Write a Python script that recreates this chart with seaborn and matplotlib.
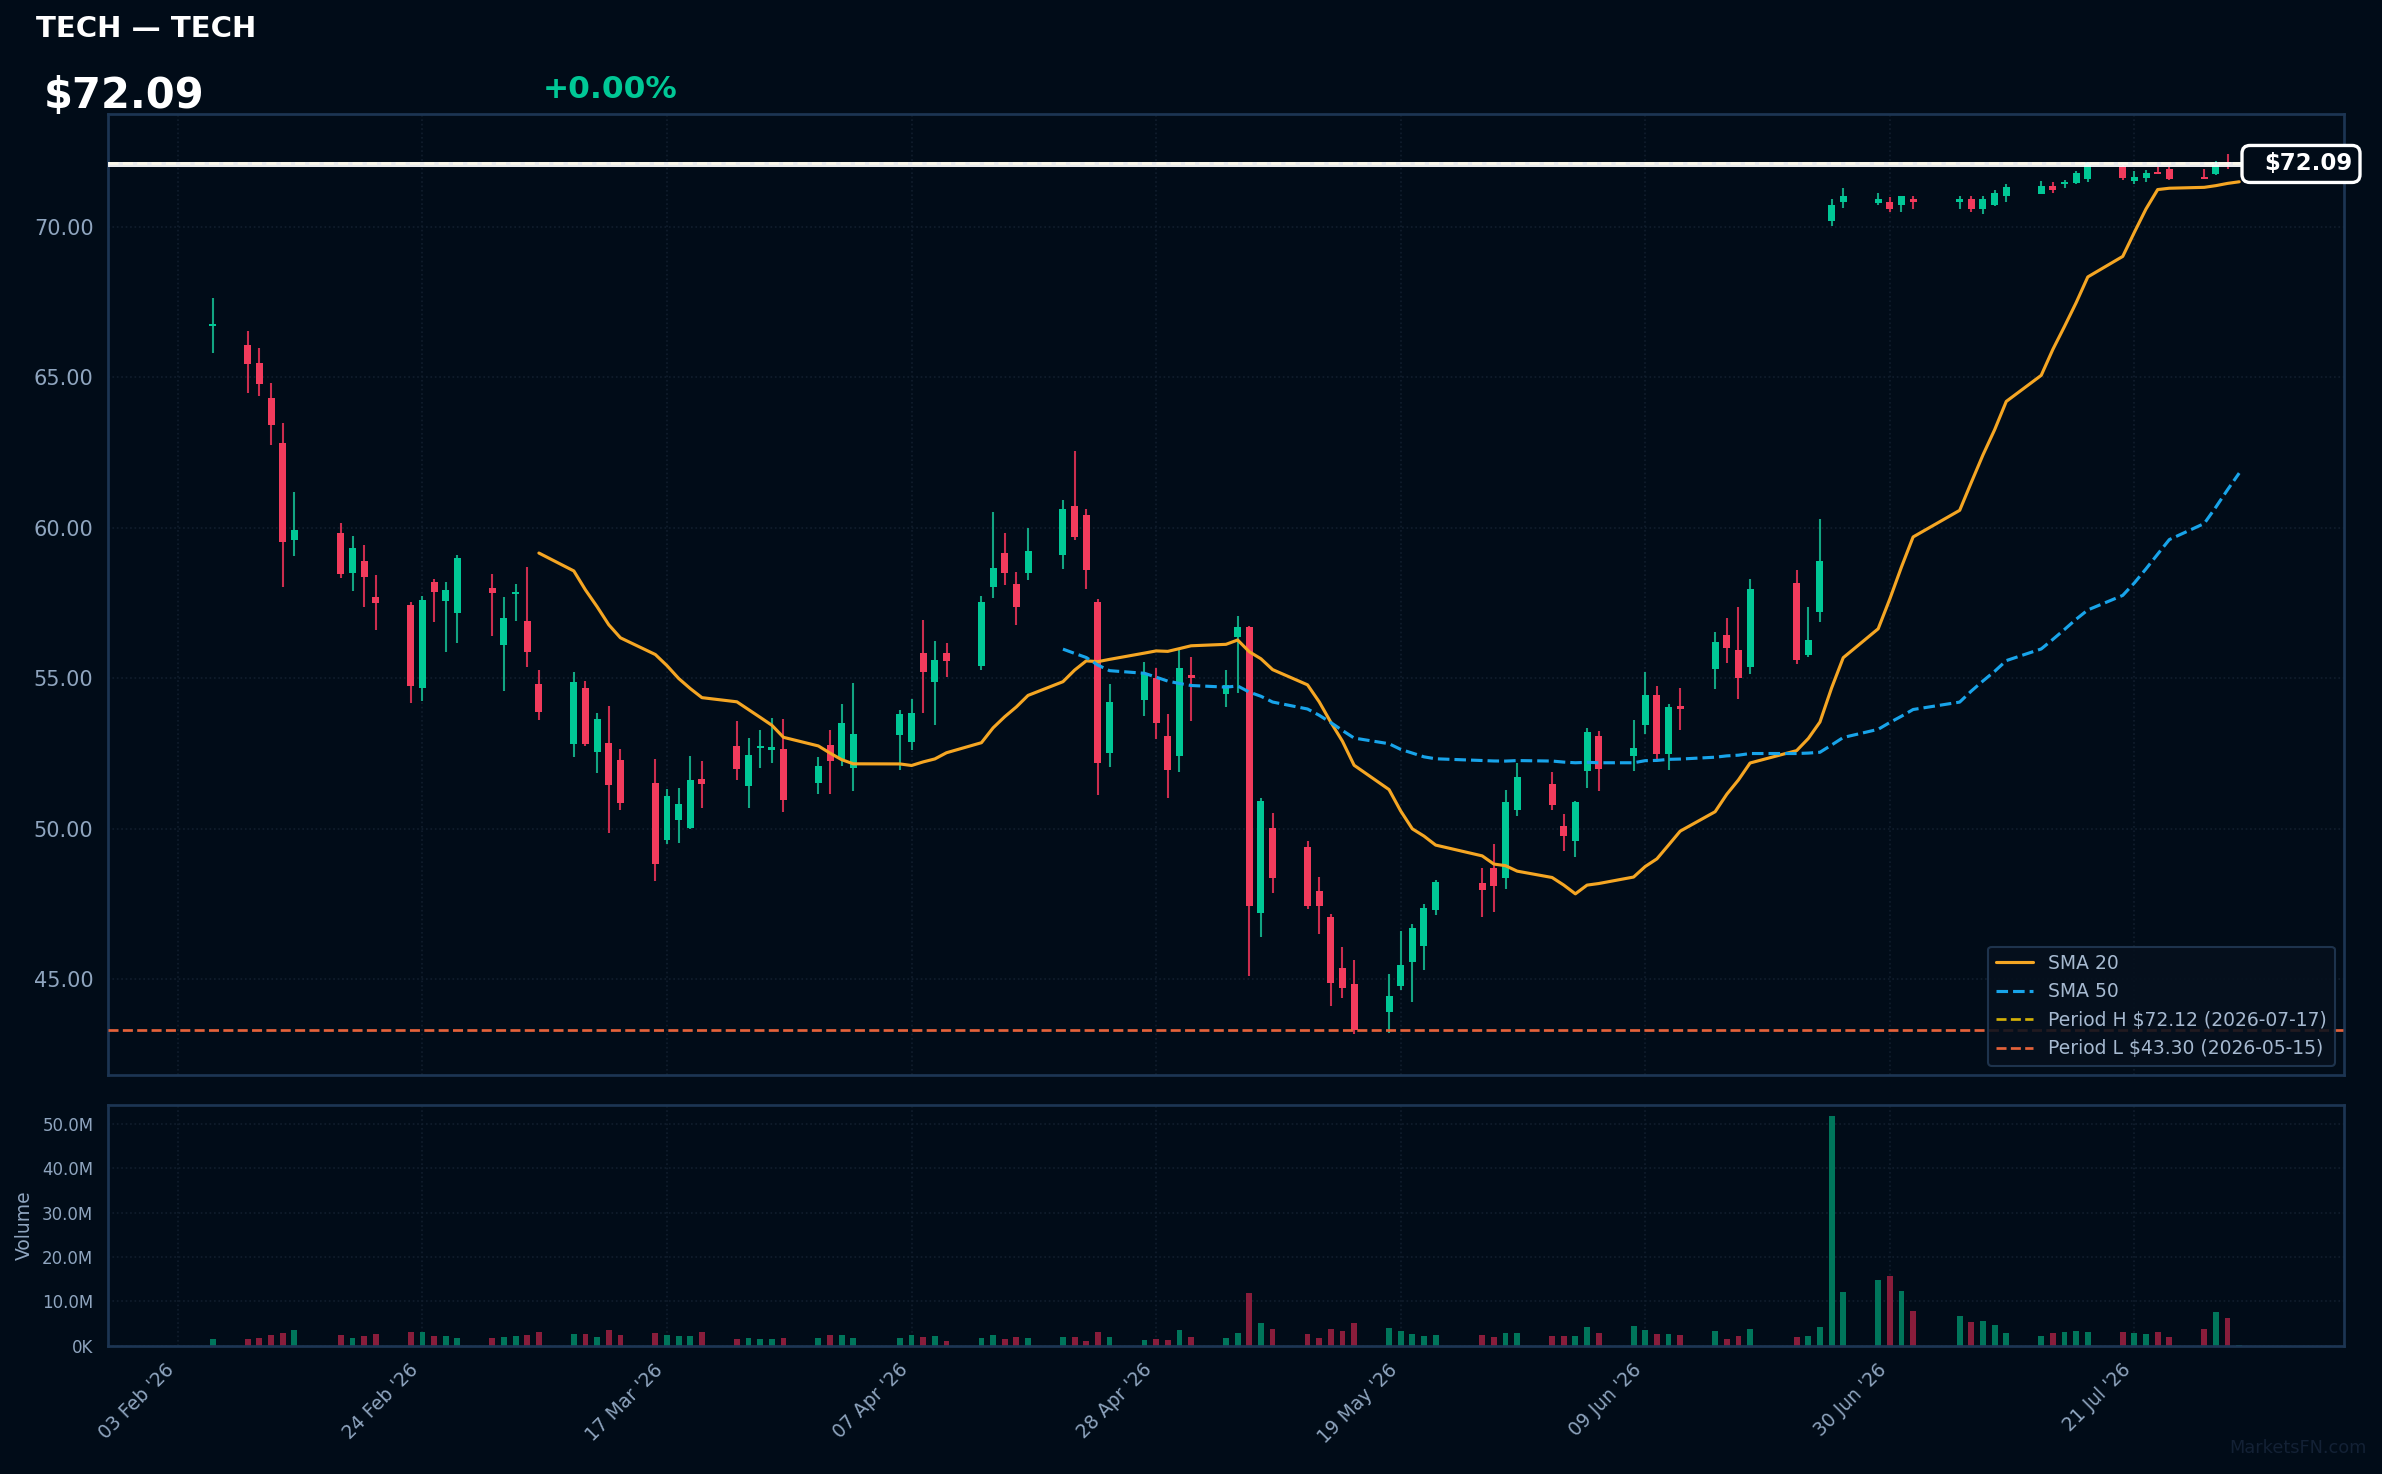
import numpy as np
import pandas as pd
import matplotlib
matplotlib.use("Agg")
import matplotlib.pyplot as plt
import matplotlib.dates as mdates
from matplotlib.patches import FancyBboxPatch
from matplotlib.lines import Line2D
from matplotlib.transforms import IdentityTransform
from matplotlib.ticker import MultipleLocator, FormatStrFormatter, FuncFormatter
import seaborn as sns

# ---------------- data ----------------
ticker = "TECH"
name = "TECH"

dates = [
    "2026-02-06", "2026-02-09", "2026-02-10", "2026-02-11", "2026-02-12", "2026-02-13",
    "2026-02-17", "2026-02-18", "2026-02-19", "2026-02-20",
    "2026-02-23", "2026-02-24", "2026-02-25", "2026-02-26", "2026-02-27",
    "2026-03-02", "2026-03-03", "2026-03-04", "2026-03-05", "2026-03-06",
    "2026-03-09", "2026-03-10", "2026-03-11", "2026-03-12", "2026-03-13",
    "2026-03-16", "2026-03-17", "2026-03-18", "2026-03-19", "2026-03-20",
    "2026-03-23", "2026-03-24", "2026-03-25", "2026-03-26", "2026-03-27",
    "2026-03-30", "2026-03-31", "2026-04-01", "2026-04-02",
    "2026-04-06", "2026-04-07", "2026-04-08", "2026-04-09", "2026-04-10",
    "2026-04-13", "2026-04-14", "2026-04-15", "2026-04-16", "2026-04-17",
    "2026-04-20", "2026-04-21", "2026-04-22", "2026-04-23", "2026-04-24",
    "2026-04-27", "2026-04-28", "2026-04-29", "2026-04-30", "2026-05-01",
    "2026-05-04", "2026-05-05", "2026-05-06", "2026-05-07", "2026-05-08",
    "2026-05-11", "2026-05-12", "2026-05-13", "2026-05-14", "2026-05-15",
    "2026-05-18", "2026-05-19", "2026-05-20", "2026-05-21", "2026-05-22",
    "2026-05-26", "2026-05-27", "2026-05-28", "2026-05-29",
    "2026-06-01", "2026-06-02", "2026-06-03", "2026-06-04", "2026-06-05",
    "2026-06-08", "2026-06-09", "2026-06-10", "2026-06-11", "2026-06-12",
    "2026-06-15", "2026-06-16", "2026-06-17", "2026-06-18",
    "2026-06-22", "2026-06-23", "2026-06-24", "2026-06-25", "2026-06-26",
    "2026-06-29", "2026-06-30", "2026-07-01", "2026-07-02",
    "2026-07-06", "2026-07-07", "2026-07-08", "2026-07-09", "2026-07-10",
    "2026-07-13", "2026-07-14", "2026-07-15", "2026-07-16", "2026-07-17",
    "2026-07-20", "2026-07-21", "2026-07-22", "2026-07-23", "2026-07-24",
    "2026-07-27", "2026-07-28", "2026-07-29", "2026-07-30",
]

opens = [
    66.72, 66.07, 65.48, 64.31, 62.82, 59.61,
    59.83, 58.51, 58.90, 57.70,
    57.44, 54.69, 58.20, 57.58, 57.18,
    58.01, 56.11, 57.79, 56.91, 54.81,
    52.82, 54.68, 52.56, 52.84, 52.28,
    51.51, 49.62, 50.29, 50.02, 51.64,
    52.74, 51.42, 52.69, 52.61, 52.64,
    51.52, 52.78, 52.33, 52.02,
    53.12, 52.89, 55.84, 54.89, 55.84,
    55.42, 58.02, 59.18, 58.14, 58.49,
    59.09, 60.74, 60.41, 57.54, 52.52,
    54.29, 55.01, 53.08, 52.42, 55.11,
    54.49, 56.36, 56.71, 47.19, 50.04,
    49.41, 47.94, 47.08, 45.38, 44.84,
    43.92, 44.79, 45.59, 46.12, 47.29,
    48.21, 48.71, 48.36, 50.62,
    51.48, 50.08, 49.59, 51.92, 53.08,
    52.41, 53.44, 54.44, 52.49, 54.08,
    55.32, 56.44, 55.94, 55.36,
    58.18, 55.76, 57.19, 70.19, 70.81,
    70.78, 70.84, 70.74, 70.91,
    70.84, 70.91, 70.61, 70.71, 71.04,
    71.10, 71.36, 71.43, 71.45, 71.60,
    72.02, 71.54, 71.64, 71.79, 71.93,
    71.67, 71.74, 72.11, 72.09,
]

highs = [
    67.64, 66.54, 65.96, 64.81, 63.48, 61.19,
    60.16, 59.73, 59.43, 58.43,
    57.54, 57.74, 58.30, 58.20, 59.10,
    58.48, 57.70, 58.14, 58.71, 55.28,
    55.21, 54.91, 53.84, 54.08, 52.64,
    52.31, 51.31, 51.34, 52.41, 52.24,
    53.58, 53.01, 53.28, 53.68, 53.64,
    52.38, 53.28, 54.14, 54.84,
    53.94, 54.31, 56.94, 56.24, 56.18,
    57.74, 60.51, 59.84, 58.54, 60.01,
    60.94, 62.54, 60.64, 57.64, 54.81,
    55.54, 55.34, 53.81, 55.94, 55.71,
    55.28, 57.08, 56.74, 51.04, 50.54,
    49.58, 48.41, 47.18, 46.08, 45.64,
    45.18, 46.61, 46.84, 47.51, 48.31,
    48.71, 49.48, 51.28, 52.18,
    51.88, 50.48, 50.94, 53.34, 53.24,
    53.61, 55.21, 54.74, 54.14, 54.68,
    56.54, 57.01, 57.38, 58.31,
    58.61, 57.38, 60.31, 70.94, 71.28,
    71.14, 70.98, 71.04, 71.04,
    71.01, 71.01, 71.01, 71.24, 71.41,
    71.53, 71.48, 71.56, 71.86, 72.16,
    72.06, 71.86, 71.89, 72.00, 72.00,
    71.93, 72.18, 72.42, 72.09,
]

lows = [
    65.82, 64.49, 64.39, 62.76, 58.05, 59.08,
    58.34, 57.91, 57.38, 56.62,
    54.19, 54.23, 56.88, 55.89, 56.19,
    56.39, 54.58, 56.91, 55.36, 53.61,
    52.38, 52.76, 51.84, 49.86, 50.62,
    48.26, 49.49, 49.52, 49.98, 50.69,
    51.62, 50.69, 52.02, 52.18, 50.56,
    51.16, 51.16, 52.10, 51.26,
    51.96, 52.62, 53.86, 53.46, 55.06,
    55.29, 57.66, 58.09, 56.78, 58.26,
    58.62, 59.59, 57.96, 51.12, 52.06,
    53.76, 52.99, 51.02, 51.89, 53.59,
    54.06, 54.52, 45.12, 46.42, 47.86,
    47.32, 46.52, 44.12, 44.39, 43.19,
    43.22, 44.66, 44.26, 45.32, 47.12,
    47.06, 47.22, 47.99, 50.42,
    50.62, 49.26, 49.06, 51.36, 51.26,
    51.92, 53.14, 52.26, 51.96, 53.28,
    54.66, 55.52, 54.32, 55.16,
    55.46, 55.70, 56.86, 70.04, 70.64,
    70.71, 70.51, 70.51, 70.61,
    70.58, 70.51, 70.44, 70.68, 70.81,
    71.08, 71.12, 71.29, 71.43, 71.50,
    71.57, 71.43, 71.50, 71.76, 71.57,
    71.60, 71.72, 71.93, 72.09,
]

closes = [
    66.78, 65.45, 64.79, 63.43, 59.54, 59.93,
    58.48, 59.33, 58.35, 57.51,
    54.76, 57.60, 57.88, 57.93, 59.00,
    57.82, 57.01, 57.88, 55.89, 53.89,
    54.88, 52.82, 53.64, 51.46, 50.86,
    48.82, 51.08, 50.84, 51.61, 51.49,
    51.99, 52.44, 52.71, 52.71, 50.96,
    52.08, 52.26, 53.51, 53.14,
    53.81, 53.84, 55.22, 55.61, 55.56,
    57.54, 58.68, 58.49, 57.36, 59.24,
    60.61, 59.69, 58.59, 52.19, 54.21,
    55.14, 53.52, 51.96, 55.34, 55.02,
    54.78, 56.71, 47.42, 50.94, 48.36,
    47.42, 47.42, 44.89, 44.72, 43.30,
    44.44, 45.48, 46.71, 47.38, 48.24,
    47.96, 48.09, 50.88, 51.71,
    50.79, 49.76, 50.88, 53.21, 51.99,
    52.68, 54.44, 52.49, 54.04, 53.98,
    56.21, 56.02, 55.00, 57.98,
    55.62, 56.28, 58.91, 70.71, 71.01,
    70.91, 70.61, 71.01, 70.84,
    70.91, 70.58, 70.94, 71.14, 71.31,
    71.36, 71.22, 71.48, 71.79, 72.12,
    71.62, 71.67, 71.79, 71.76, 71.60,
    71.60, 72.05, 72.09, 72.09,
]

volumes_m = [
    1.5, 1.5, 1.7, 2.4, 2.9, 3.5,
    2.4, 1.7, 2.2, 2.6,
    3.1, 3.1, 2.2, 2.2, 1.7,
    1.7, 2.0, 2.2, 2.4, 3.1,
    2.6, 2.6, 2.0, 3.5, 2.4,
    2.9, 2.4, 2.2, 2.2, 3.1,
    1.5, 1.7, 1.5, 1.5, 1.7,
    1.7, 2.4, 2.4, 1.7,
    1.7, 2.4, 2.0, 2.2, 1.0,
    1.7, 2.4, 1.5, 2.0, 1.7,
    2.0, 2.0, 1.0, 3.1, 2.0,
    1.3, 1.5, 1.3, 3.5, 2.0,
    1.7, 2.9, 11.9, 5.1, 3.8,
    2.6, 1.7, 3.8, 3.3, 5.1,
    4.0, 3.3, 2.6, 2.2, 2.4,
    2.4, 2.0, 2.9, 2.9,
    2.2, 2.2, 2.2, 4.2, 2.9,
    4.4, 3.5, 2.6, 2.6, 2.4,
    3.3, 1.5, 2.2, 3.8,
    2.0, 2.2, 4.2, 51.7, 12.1,
    14.8, 15.7, 12.3, 7.8,
    6.7, 5.3, 5.6, 4.7, 2.9,
    2.2, 2.9, 3.1, 3.3, 3.1,
    3.1, 2.9, 2.6, 3.1, 2.0,
    3.8, 7.6, 6.2, 0.15,
]

tick_start = "2026-02-03"
tick_count = 9
tick_step_days = 21

# ---------------- style ----------------
BG = "#010c18"
UP, DOWN = "#00c896", "#f23b5c"
UP_WICK, DOWN_WICK = "#12a582", "#cc2d4e"
UP_VOL, DOWN_VOL = "#00765b", "#891d3b"
SPINE = "#1c3553"
GRID = "#111e2d"
TICK = "#8fa5bf"
SMA20_C, SMA50_C = "#f5a623", "#18a4ea"
HI_C, LO_C = "#d4b106", "#e5623a"

sns.set_theme(style="dark")
plt.rcParams.update({
    "figure.facecolor": BG,
    "axes.facecolor": BG,
    "savefig.facecolor": BG,
    "axes.edgecolor": SPINE,
    "text.color": "white",
    "xtick.color": TICK,
    "ytick.color": TICK,
    "axes.labelcolor": TICK,
})
plt.rcParams["font.family"] = ["DejaVu Sans"]

df = pd.DataFrame({
    "date": pd.to_datetime(dates), "open": opens, "high": highs,
    "low": lows, "close": closes, "volume": np.array(volumes_m) * 1e6,
})
df["x"] = mdates.date2num(df["date"])
df["up"] = df["close"] >= df["open"]
df["sma20"] = df["close"].rolling(20).mean()
df["sma50"] = df["close"].rolling(50).mean()

W, H, DPI = 2382, 1474, 150
fig = plt.figure(figsize=(W / DPI, H / DPI), dpi=DPI)
ax = fig.add_axes([0.04534, 0.27069, 0.93871, 0.65197])
axv = fig.add_axes([0.04534, 0.08704, 0.93871, 0.16350], sharex=ax)

# candles
body_bottom = np.minimum(df["open"], df["close"])
body_h = np.maximum((df["close"] - df["open"]).abs(), 0.06)
ax.vlines(df["x"], df["low"], df["high"],
          colors=np.where(df["up"], UP_WICK, DOWN_WICK), lw=1.0, zorder=2)
ax.bar(df["x"], body_h, bottom=body_bottom, width=0.6,
       color=np.where(df["up"], UP, DOWN), linewidth=0, zorder=3)

# moving averages
sns.lineplot(x=df["x"].values, y=df["sma20"].values, ax=ax, color=SMA20_C,
             lw=1.5, zorder=4)
sns.lineplot(x=df["x"].values, y=df["sma50"].values, ax=ax, color=SMA50_C,
             lw=1.5, linestyle="--", zorder=4)

# period high / low (closing basis)
i_hi = int(df["close"].idxmax())
i_lo = int(df["close"].idxmin())
p_hi, p_lo = df["close"][i_hi], df["close"][i_lo]
ax.axhline(p_hi, color=HI_C, ls="--", lw=1.3, zorder=4)
ax.axhline(p_lo, color=LO_C, ls="--", lw=1.3, zorder=4)

last = df["close"].iloc[-1]
prev = df["close"].iloc[-2]
chg = (last - prev) / prev * 100
ax.axhline(last, color="white", lw=2.4, alpha=0.92, zorder=6)

# limits / ticks
x0 = df["x"].iloc[0] - 9
x1 = df["x"].iloc[-1] + 9
ax.set_xlim(x0, x1)
ax.set_ylim(41.82, 73.75)
ax.yaxis.set_major_locator(MultipleLocator(5))
ax.yaxis.set_major_formatter(FormatStrFormatter("%.2f"))
ax.tick_params(axis="y", labelsize=10, colors=TICK, length=3.5)
ax.tick_params(axis="x", labelbottom=False, bottom=False)
ax.set_xlabel("")
ax.set_ylabel("")

tick_dates = pd.date_range(tick_start, periods=tick_count, freq=f"{tick_step_days}D")
axv.set_xticks(mdates.date2num(tick_dates))
axv.set_xticklabels([d.strftime("%d %b '%y") for d in tick_dates],
                    rotation=45, ha="right", fontsize=9, color=TICK)
axv.tick_params(axis="x", length=3.5, colors=TICK)

for a in (ax, axv):
    a.grid(True, color=GRID, ls=":", lw=0.8)
    for s in a.spines.values():
        s.set_visible(True)
        s.set_color(SPINE)
        s.set_linewidth(1.3)
    a.set_axisbelow(True)

# volume
axv.bar(df["x"], df["volume"], width=0.5,
        color=np.where(df["up"], UP_VOL, DOWN_VOL), linewidth=0)
axv.set_ylim(0, df["volume"].max() * 1.05)
axv.yaxis.set_major_locator(MultipleLocator(10e6))
axv.yaxis.set_major_formatter(FuncFormatter(
    lambda v, p: f"{v / 1e6:.1f}M" if v >= 1e6 else f"{v / 1e3:.0f}K"))
axv.tick_params(axis="y", labelsize=8, colors=TICK, length=3.5)
axv.set_ylabel("Volume", fontsize=9, color=TICK, labelpad=4)

# legend
handles = [
    Line2D([], [], color=SMA20_C, lw=1.5),
    Line2D([], [], color=SMA50_C, lw=1.5, ls="--"),
    Line2D([], [], color=HI_C, lw=1.3, ls="--"),
    Line2D([], [], color=LO_C, lw=1.3, ls="--"),
]
labels = [
    "SMA 20", "SMA 50",
    f"Period H ${p_hi:.2f} ({df['date'][i_hi]:%Y-%m-%d})",
    f"Period L ${p_lo:.2f} ({df['date'][i_lo]:%Y-%m-%d})",
]
leg = ax.legend(handles, labels, loc="lower right", fontsize=9, frameon=True,
                facecolor="#06101d", edgecolor="#223954", framealpha=0.88,
                labelcolor="#a6b9d0")
leg.set_zorder(10)

# header texts
fig.text(0.0151, 0.9747, f"{ticker} \u2014 {name}", fontsize=14,
         fontweight="bold", color="white", va="baseline", ha="left")
fig.text(0.0185, 0.9269, f"${last:.2f}", fontsize=20, fontweight="bold",
         color="white", va="baseline", ha="left")
fig.text(0.2278, 0.9337, f"{chg:+.2f}%", fontsize=15, fontweight="bold",
         color=UP if chg >= 0 else DOWN, va="baseline", ha="left")
fig.text(0.9937, 0.0176, "MarketsFN.com", fontsize=8.5, color="#132135",
         ha="right", va="center")

# last price tag
y_disp = ax.transData.transform((x0, last))[1]
x_right = ax.transAxes.transform((1.0, 0.0))[0]
box = FancyBboxPatch((x_right - 102, y_disp - 18.5), 118, 37,
                     boxstyle="round,pad=0,rounding_size=8",
                     transform=IdentityTransform(), facecolor=BG,
                     edgecolor="white", lw=1.6, zorder=20)
fig.add_artist(box)
fig.text(x_right + 8, y_disp, f"${last:.2f}", transform=IdentityTransform(),
         fontsize=11, fontweight="bold", color="white", ha="right",
         va="center", zorder=21)

fig.savefig("out.png", dpi=DPI, facecolor=BG)
